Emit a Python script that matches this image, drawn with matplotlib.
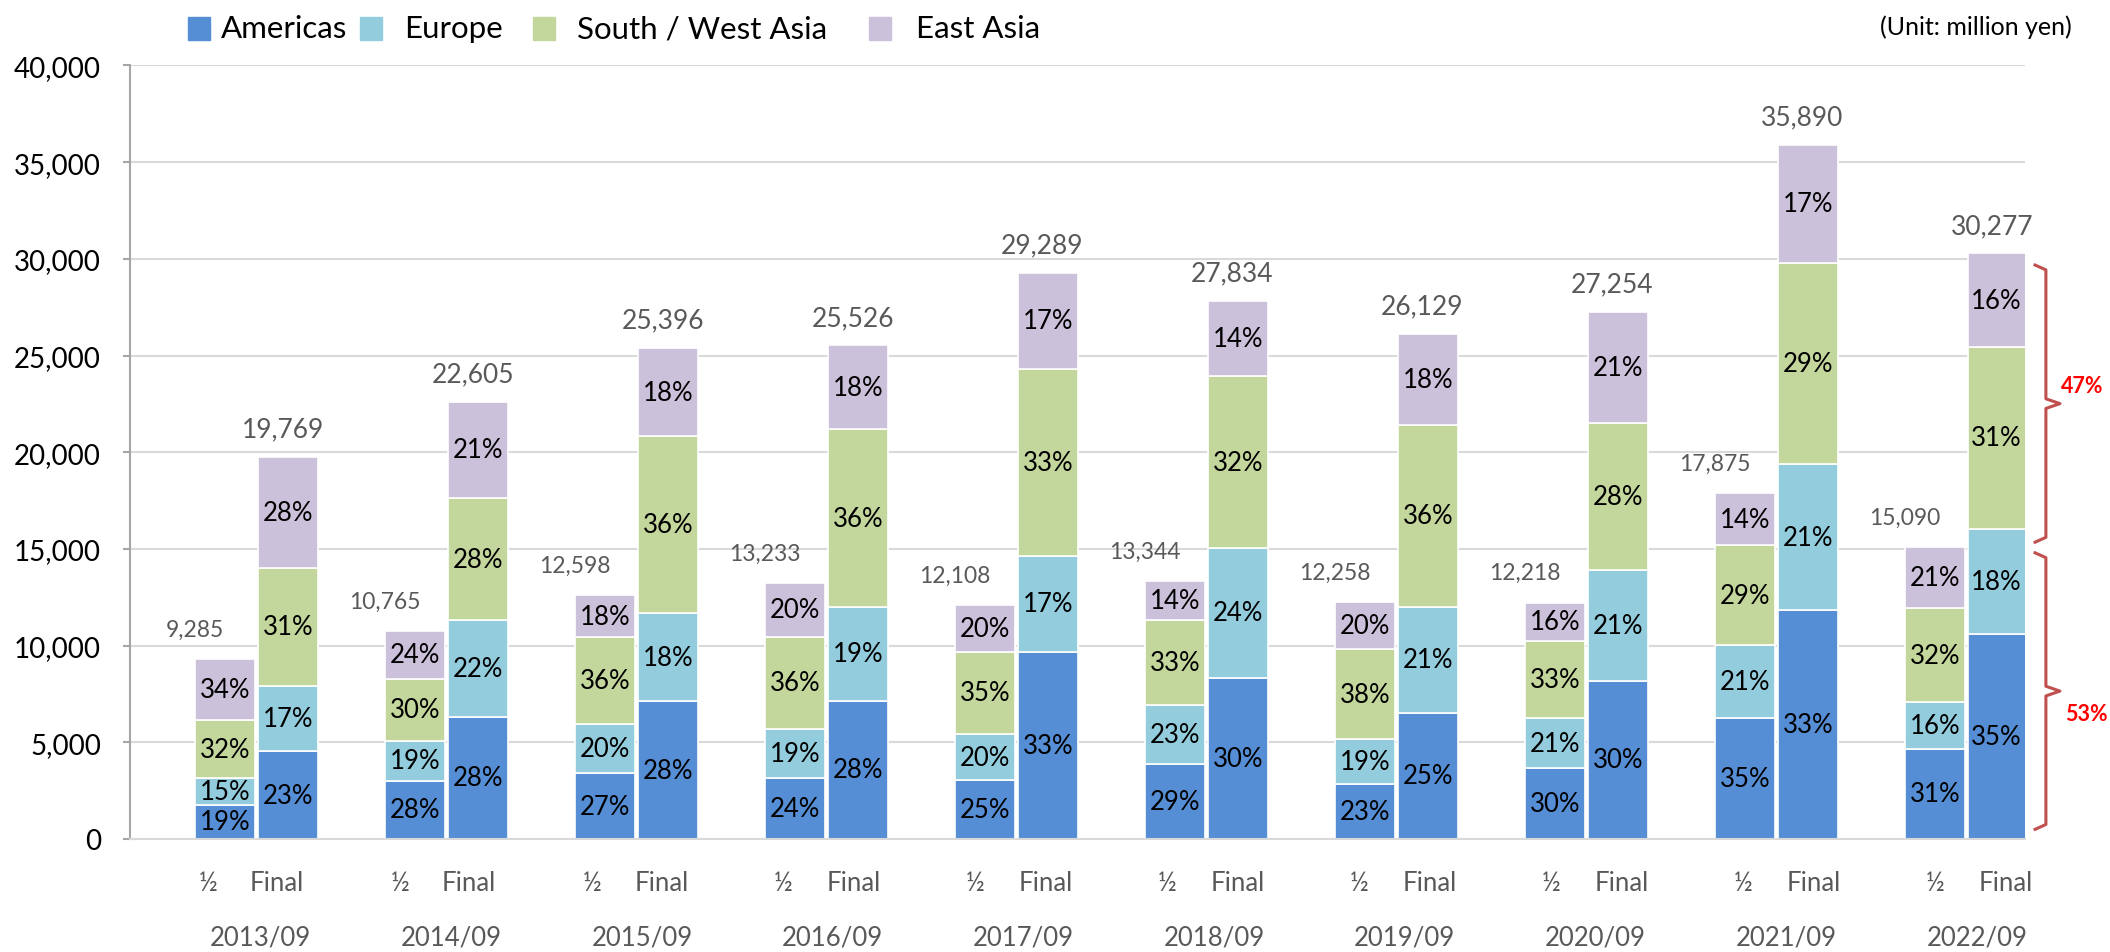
import matplotlib
matplotlib.use('Agg')
import matplotlib.pyplot as plt
from matplotlib.patches import Rectangle
import numpy as np

plt.rcParams['font.family'] = ['Lato', 'DejaVu Sans']

######## data (million yen), bars in order: 2013 half, 2013 final, 2014 half, ...
years = ['2013/09', '2014/09', '2015/09', '2016/09', '2017/09',
         '2018/09', '2019/09', '2020/09', '2021/09', '2022/09']
periods = ['½', 'Final']
series = ['Americas', 'Europe', 'South / West Asia', 'East Asia']
colors = ['#558ED5', '#93CDDD', '#C3D69B', '#CCC1DA']

totals = [9285, 19769, 10765, 22605, 12598, 25396, 13233, 25526, 12108, 29289,
          13344, 27834, 12258, 26129, 12218, 27254, 17875, 35890, 15090, 30277]
americas = [1764, 4547, 3014, 6329, 3401, 7111, 3176, 7147, 3027, 9665,
            3870, 8350, 2819, 6532, 3665, 8176, 6256, 11844, 4678, 10597]
europe = [1393, 3361, 2045, 4973, 2520, 4571, 2514, 4850, 2422, 4979,
          3069, 6680, 2329, 5487, 2566, 5723, 3754, 7537, 2414, 5450]
sw_asia = [2971, 6128, 3230, 6329, 4535, 9143, 4764, 9189, 4238, 9665,
           4404, 8907, 4658, 9406, 4032, 7631, 5184, 10408, 4829, 9386]
east_asia = [3157, 5733, 2476, 4974, 2142, 4571, 2779, 4340, 2421, 4980,
             2001, 3897, 2452, 4704, 1955, 5724, 2681, 6101, 3169, 4844]

pct_am = [19, 23, 28, 28, 27, 28, 24, 28, 25, 33, 29, 30, 23, 25, 30, 30, 35, 33, 31, 35]
pct_eu = [15, 17, 19, 22, 20, 18, 19, 19, 20, 17, 23, 24, 19, 21, 21, 21, 21, 21, 16, 18]
pct_sw = [32, 31, 30, 28, 36, 36, 36, 36, 35, 33, 33, 32, 38, 36, 33, 28, 29, 29, 32, 31]
pct_ea = [34, 28, 24, 21, 18, 18, 20, 18, 20, 17, 14, 14, 20, 18, 16, 21, 14, 17, 21, 16]

share_labels = ['53%', '47%']   # Americas+Europe / Asia, latest final

####### layout
fig = plt.figure(figsize=(21.1, 9.53), dpi=100)
ax = fig.add_axes([130/2110, 113/953, 1895/2110, 773.6/953])

n = len(totals)
idx = np.arange(n)
grp = idx // 2
is_half = idx % 2 == 0
x = grp + np.where(is_half, -0.166, 0.166)
width = 0.316

values = [americas, europe, sw_asia, east_asia]
pcts = [pct_am, pct_eu, pct_sw, pct_ea]
bottom = np.zeros(n)
for vals, pc, col, name in zip(values, pcts, colors, series):
    bars = ax.bar(x, vals, width, bottom=bottom, color=col, edgecolor='white',
                  linewidth=1.2, label=name, zorder=2)
    ax.bar_label(bars, labels=['%d%%' % p for p in pc], label_type='center',
                 fontsize=18.5, color='black')
    bottom += np.array(vals)

####### totals above bars
for i in range(n):
    if i % 2 == 0:
        ax.annotate(f'{totals[i]:,}', (x[i], totals[i]), xytext=(-21.5, 21.5),
                    textcoords='offset points', ha='center', va='center',
                    fontsize=16.5, color='#595959')
    else:
        ax.annotate(f'{totals[i]:,}', (x[i], totals[i]), xytext=(-4, 20),
                    textcoords='offset points', ha='center', va='center',
                    fontsize=19, color='#595959')

####### axes
ax.set_xlim(-0.666, 9.308)
ax.set_ylim(0, 40000)
ax.set_yticks(np.arange(0, 40001, 5000))
ax.yaxis.set_major_formatter(matplotlib.ticker.StrMethodFormatter('{x:,.0f}'))
ax.tick_params(axis='y', labelsize=20, length=5, width=1.5, color='#A6A6A6',
               pad=16, labelcolor='black')
# category labels drift a little like in the excel original
shift = np.where(is_half, -17 + 17 * grp / 9, -11 + 19 * grp / 9) / 190
ax.set_xticks(x + shift)
ax.set_xticklabels(periods * len(years))
ax.tick_params(axis='x', length=0, pad=22, labelsize=18.5, labelcolor='#595959')
for i, yr in enumerate(years):
    ax.annotate(yr, (i, 0), xycoords=('data', 'axes fraction'),
                xytext=(3 + 0.5 * i, -70.5),
                textcoords='offset points', ha='center', va='center',
                fontsize=18.5, color='#595959')

ax.yaxis.grid(True, color='#D9D9D9', linewidth=1.5, zorder=0)
ax.set_axisbelow(True)
for s in ['top', 'right']:
    ax.spines[s].set_visible(False)
ax.spines['bottom'].set_color('#D9D9D9')
ax.spines['bottom'].set_linewidth(1.5)
ax.spines['left'].set_color('#A6A6A6')
ax.spines['left'].set_linewidth(1.5)

####### braces on the right
split = americas[-1] + europe[-1]
top = totals[-1]
red = '#C0504D'
xv, xl, xp = 9.418, 9.361, 9.492


def brace(y0, y1):
    ym = (y0 + y1) / 2
    e = 250
    ax.plot([xl, xv, xv, xp, xv, xv, xl],
            [y0, y0 + e, ym - e, ym, ym + e, y1 - e, y1],
            color=red, linewidth=2.2, clip_on=False, solid_joinstyle='round')


brace(500, split - 1250)
brace(split - 700, top - 600)
ax.text(9.63, (split - 1250) * 0.44, share_labels[0], color='red', fontsize=15.5,
        fontweight='bold', ha='center', va='center', clip_on=False)
ax.text(9.61, (split + top) / 2 + 300, share_labels[1], color='red', fontsize=15.5,
        fontweight='bold', ha='center', va='center', clip_on=False)

####### legend (manual, Excel-like spacing)
leg_sq = [188, 360, 533, 869]
leg_tx = [221, 404, 577, 916]
for sq, tx, col, name in zip(leg_sq, leg_tx, colors, series):
    fig.patches.append(Rectangle((sq/2110, 1 - 41/953), 22/2110, 23/953,
                                 color=col, transform=fig.transFigure))
    fig.text(tx/2110, 1 - 29/953, name, ha='left', va='center', fontsize=22.5)

fig.text(2072/2110, 1 - 27/953, '(Unit: million yen)', ha='right', va='center',
         fontsize=18)

plt.savefig('out.png', dpi=100)
